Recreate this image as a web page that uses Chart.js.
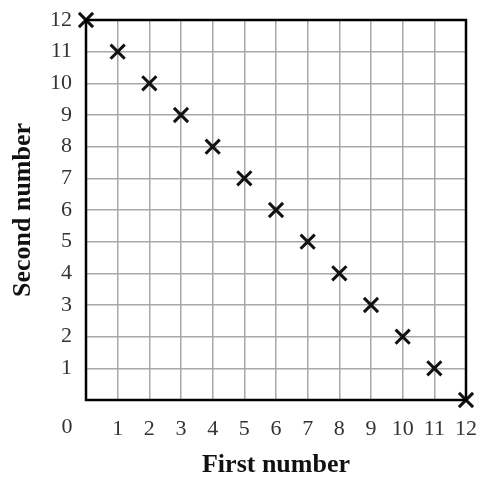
<!DOCTYPE html>
<html>
<head>
<meta charset="utf-8">
<script src="https://cdn.jsdelivr.net/npm/chart.js@4"></script>
<style>
  html, body { margin: 0; padding: 0; background: #fff; }
  #wrap { width: 481px; height: 481px; }
</style>
</head>
<body>
<div id="wrap"><canvas id="chart"></canvas></div>
<script>
const firstNumbers = [0, 1, 2, 3, 4, 5, 6, 7, 8, 9, 10, 11, 12];
const secondNumbers = [12, 11, 10, 9, 8, 7, 6, 5, 4, 3, 2, 1, 0];
const axisMin = 0;
const axisMax = 12;
const cornerLabel = "0";

const serif = "'Liberation Serif', 'DejaVu Serif', serif";

// frame round the plot + the lone "0" in the corner
const framePlugin = {
  id: "frame",
  afterDraw(chart) {
    const { ctx, chartArea, scales } = chart;
    ctx.save();
    ctx.strokeStyle = "#000";
    ctx.lineWidth = 2.5;
    ctx.strokeRect(chartArea.left, chartArea.top,
      chartArea.right - chartArea.left, chartArea.bottom - chartArea.top);
    ctx.fillStyle = "#333";
    ctx.font = "22px " + serif;
    ctx.textAlign = "center";
    ctx.textBaseline = "middle";
    ctx.fillText(cornerLabel, scales.x.left - 19, scales.x.top + 27);
    ctx.restore();
  }
};

const points = firstNumbers.map((x, i) => ({ x: x, y: secondNumbers[i] }));

new Chart(document.getElementById("chart"), {
  type: "scatter",
  data: {
    datasets: [{
      data: points,
      pointStyle: "crossRot",
      pointRadius: 10,
      pointHoverRadius: 10,
      borderColor: "#111",
      backgroundColor: "#111",
      pointBorderWidth: 3,
      clip: false
    }]
  },
  options: {
    responsive: true,
    maintainAspectRatio: false,
    animation: false,
    layout: { padding: { top: 20, right: 15, left: 0, bottom: 0 } },
    plugins: {
      legend: { display: false },
      tooltip: { enabled: false }
    },
    scales: {
      x: {
        type: "linear",
        min: axisMin,
        max: axisMax,
        afterFit(scale) {
          scale.height = 81;
          scale.paddingLeft = 0;
          scale.paddingRight = 0;
        },
        grid: { color: "#a8a8a8", lineWidth: 1.5, drawTicks: false },
        border: { display: false },
        ticks: {
          stepSize: 1,
          padding: 16,
          color: "#333",
          font: { family: serif, size: 22 },
          callback: (v) => (v === 0 ? "" : v)
        },
        title: {
          display: true,
          text: "First number",
          color: "#111",
          font: { family: serif, size: 26, weight: "bold" },
          padding: { top: 0, bottom: 0 }
        }
      },
      y: {
        type: "linear",
        min: axisMin,
        max: axisMax,
        afterFit(scale) {
          scale.width = 86;
          scale.paddingTop = 0;
          scale.paddingBottom = 0;
        },
        grid: { color: "#a8a8a8", lineWidth: 1.5, drawTicks: false },
        border: { display: false },
        ticks: {
          stepSize: 1,
          padding: 14,
          color: "#333",
          font: { family: serif, size: 22 },
          callback: (v) => (v === 0 ? "" : v)
        },
        title: {
          display: true,
          text: "Second number",
          color: "#111",
          font: { family: serif, size: 26, weight: "bold" },
          padding: { top: 8, bottom: 0 }
        }
      }
    }
  },
  plugins: [framePlugin]
});
</script>
</body>
</html>
